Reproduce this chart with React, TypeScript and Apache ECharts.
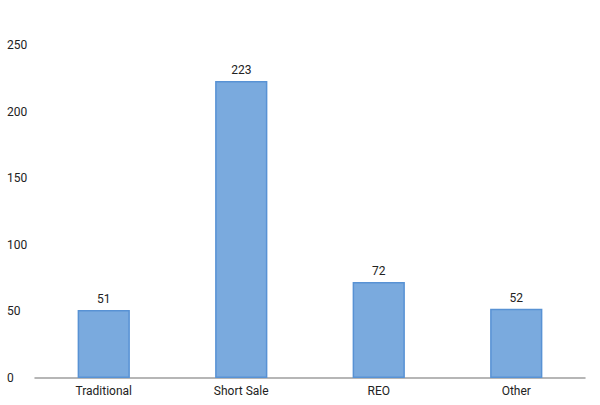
import React, { useEffect, useRef } from "react";
import * as echarts from "echarts";

const categories = ["Traditional", "Short Sale", "REO", "Other"];
const values = [51, 223, 72, 52];
const yTicks = [0, 50, 100, 150, 200, 250];

export default function App() {
  const ref = useRef<HTMLDivElement>(null);
  useEffect(() => {
    if (!ref.current) return;
    const chart = echarts.init(ref.current, null, { renderer: "svg" });
    chart.setOption({
      animation: false,
      grid: { left: 35, right: 15, top: 45, bottom: 27 },
      xAxis: {
        type: "category",
        data: categories,
        axisLine: { lineStyle: { color: "#9e9e9e", width: 1.5 } },
        axisTick: { show: false },
        axisLabel: { color: "#222", fontFamily: "Roboto", fontSize: 12, margin: 7 },
      },
      yAxis: {
        type: "value",
        min: yTicks[0],
        max: yTicks[yTicks.length - 1],
        interval: 50,
        axisLine: { show: false },
        axisTick: { show: false },
        splitLine: { show: false },
        axisLabel: { color: "#222", fontFamily: "Roboto", fontSize: 12, align: "left", margin: 28 },
      },
      series: [
        {
          type: "bar",
          data: values,
          barWidth: "38%",
          itemStyle: { color: "#7aaade", borderColor: "#5892d4", borderWidth: 1.5 },
          label: { show: true, position: "top", color: "#222", fontFamily: "Roboto", fontSize: 12, distance: 5 },
        },
      ],
    });
    return () => chart.dispose();
  }, []);
  return (
    <div
      ref={ref}
      style={{ position: "absolute", left: 0, top: 0, width: 600, height: 405 }}
    />
  );
}
